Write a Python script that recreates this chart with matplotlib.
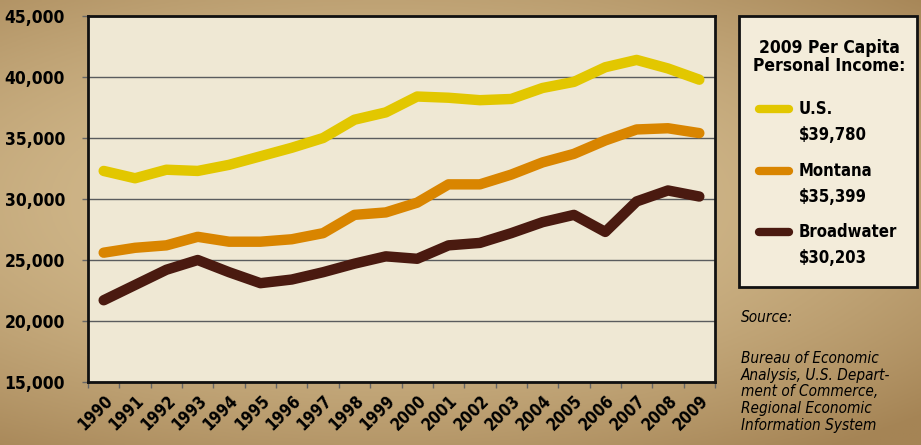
import numpy as np
import matplotlib.pyplot as plt
from matplotlib.patches import Rectangle
from matplotlib.lines import Line2D

# データ
years = [str(y) for y in range(1990, 2010)]
us = [32300, 31700, 32400, 32300, 32800, 33500, 34200, 35000, 36500, 37100,
      38400, 38300, 38100, 38200, 39100, 39600, 40800, 41400, 40700, 39780]
montana = [25600, 26000, 26200, 26900, 26500, 26500, 26700, 27200, 28700, 28900,
           29700, 31200, 31200, 32000, 33000, 33700, 34800, 35700, 35800, 35399]
broadwater = [21700, 22950, 24200, 25000, 24000, 23100, 23400, 24000, 24700, 25300,
              25100, 26200, 26400, 27200, 28100, 28700, 27300, 29800, 30700, 30203]

series = [("U.S.", "$39,780", us, "#E2C700"),
          ("Montana", "$35,399", montana, "#D98500"),
          ("Broadwater", "$30,203", broadwater, "#4A1A10")]

yticks = [15000, 20000, 25000, 30000, 35000, 40000, 45000]

plt.rcParams['font.family'] = ['DejaVu Sans']
plt.rcParams['font.stretch'] = 'condensed'

fig = plt.figure(figsize=(9.21, 4.45), dpi=100)

# 背景（羊皮紙風のグラデーション）
bg = fig.add_axes([0, 0, 1, 1], zorder=-10)
yy, xx = np.mgrid[-1:1:200j, -1:1:400j]
r = np.sqrt((xx * 0.9 + 0.15) ** 2 + (yy * 1.1 + 0.1) ** 2)
c0 = np.array([214, 190, 145]) / 255
c1 = np.array([165, 132, 85]) / 255
t = np.clip(r / 1.5, 0, 1)[..., None] ** 1.8
bg.imshow(c0 * (1 - t) + c1 * t, aspect='auto', extent=[0, 1, 0, 1])
bg.axis('off')

ax = fig.add_axes([88 / 921, 63 / 445, 627 / 921, 366 / 445])
ax.set_facecolor('#EFE8D4')
x = np.arange(len(years))
for name, val, data, col in series:
    ax.plot(x, data, color=col, lw=7.5, solid_capstyle='round',
            solid_joinstyle='round', zorder=3)

ax.set_xlim(-0.5, len(years) - 0.5)
ax.set_ylim(15000, 45000)
ax.set_yticks(yticks)
ax.set_yticklabels([f"{v:,}" for v in yticks], fontsize=12.5, fontweight='bold')
ax.grid(axis='y', color='#5a5c5e', lw=1.0, zorder=1)
ax.tick_params(axis='y', length=4.5, width=1, color='#666666', pad=12)

ax.set_xticks(x)
ax.set_xticklabels(years, rotation=45, ha='right', va='top',
                   rotation_mode='anchor', fontsize=12, fontweight='bold')
ax.tick_params(axis='x', length=0, pad=7)
ax.set_xticks(np.arange(-0.5, len(years)), minor=True)
ax.tick_params(axis='x', which='minor', length=4.5, width=1, color='#666666')
for s in ax.spines.values():
    s.set_linewidth(2)
    s.set_color('#111111')

# 凡例ボックス
W, H = 921, 445
fig.patches.append(Rectangle((739 / W, 1 - 287 / H), 178 / W, 271 / H,
                             transform=fig.transFigure, facecolor='#F3ECDA',
                             edgecolor='#111111', lw=2))
fig.text(829 / W, 1 - 57 / H, "2009 Per Capita\nPersonal Income:", ha='center',
         va='center', fontsize=12.5, fontweight='bold', linespacing=1.0)
ys = [109, 171, 232]
for (name, val, data, col), yp in zip(series, ys):
    fig.lines.append(Line2D([759 / W, 789 / W], [1 - yp / H] * 2,
                            transform=fig.transFigure, color=col, lw=6,
                            solid_capstyle='round'))
    fig.text(799 / W, 1 - yp / H, name, ha='left', va='center',
             fontsize=12, fontweight='bold')
    fig.text(799 / W, 1 - (yp + 26) / H, val, ha='left', va='center',
             fontsize=12, fontweight='bold')

fig.text(741 / W, 1 - 317 / H, "Source:", ha='left', va='center',
         fontsize=11, style='italic')
fig.text(741 / W, 1 - 392 / H,
         "Bureau of Economic\nAnalysis, U.S. Depart-\nment of Commerce,\n"
         "Regional Economic\nInformation System",
         ha='left', va='center', fontsize=11, style='italic', linespacing=1.15)

fig.savefig('out.png', dpi=100)
